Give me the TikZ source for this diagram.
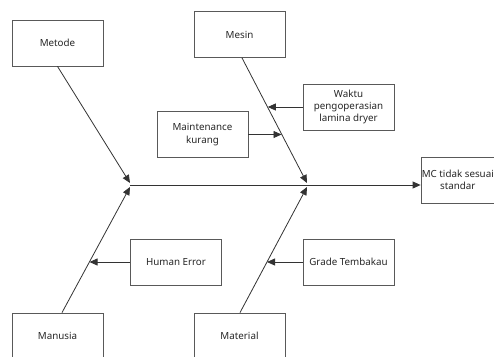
\documentclass[tikz,border=0pt]{standalone}
\usepackage{fontspec}
\setmainfont{Noto Sans}
\usetikzlibrary{arrows.meta}
\begin{document}
\begin{tikzpicture}[x=1pt,y=-1pt,
  box/.style={draw=black!65,line width=0.8pt,rectangle,minimum width=91pt,minimum height=46pt,align=center,font=\fontsize{9.8}{12.2}\selectfont,text=black!85,inner sep=1pt},
  conn/.style={draw=black!80,line width=0.8pt,-{Triangle[length=8pt,width=7pt]}}]
\useasboundingbox (0,0) rectangle (494,356);
\clip (0,0) rectangle (494,356);
\node[box] (metode) at (57.5,43) {Metode};
\node[box] (mesin) at (239.5,34.5) {Mesin};
\node[box] (maint) at (202.5,134.5) {Maintenance\\kurang};
\node[box] (waktu) at (348.5,107) {Waktu\\pengoperasian\\lamina dryer};
\node[box,minimum width=90pt] (mc) at (466,180) {};
\node[font=\fontsize{9.8}{12.2}\selectfont,text=black!85,align=center,anchor=west,inner sep=0pt] (mctext) at ([xshift=1pt]mc.west) {MC tidak sesuai\\standar};
\node[box] (human) at (176,262) {Human Error};
\node[box] (grade) at (348.5,262) {Grade Tembakau};
\node[box] (manusia) at (57.5,336) {Manusia};
\node[box] (material) at (239.5,336) {Material};
\coordinate (t1) at (130,183);
\coordinate (t2) at (130,187);
\coordinate (t3) at (307,183);
\coordinate (t4) at (307,187);
\coordinate (s0) at (130,185);
\coordinate (m1) at (267.8,107);
\coordinate (m2) at (281.5,134.5);
\coordinate (h1) at (89.5,262);
\coordinate (g1) at (267,262);
\draw[conn] (s0) -- (s0 -| mc.west);
\draw[conn] (metode.south) -- (t1);
\draw[conn] ([xshift=2.5pt]mesin.south) -- (t3);
\draw[conn] ([xshift=4.5pt]manusia.north) -- (t2);
\draw[conn] ([xshift=0.5pt]material.north) -- (t4);
\draw[conn] (waktu.west) -- (m1);
\draw[conn] (maint.east) -- (m2);
\draw[conn] (human.west) -- (h1);
\draw[conn] (grade.west) -- (g1);
\end{tikzpicture}
\end{document}
